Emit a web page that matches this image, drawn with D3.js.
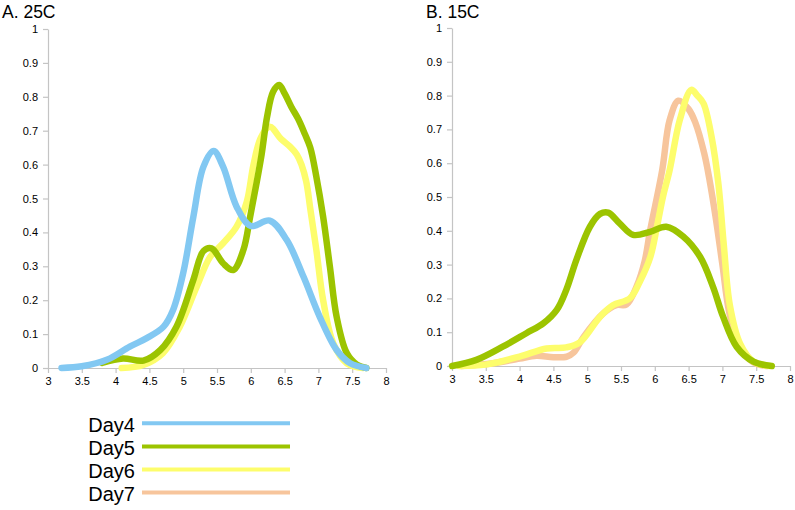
<!DOCTYPE html>
<html>
<head>
<meta charset="utf-8">
<script src="https://cdn.jsdelivr.net/npm/d3@7"></script>
<style>
  html, body { margin: 0; padding: 0; background: #fff; }
  svg { display: block; font-family: "Liberation Sans", Arial, Helvetica, sans-serif; }
</style>
</head>
<body>
<svg id="chart" width="795" height="510"></svg>
<script>
// ---- data ----
const panelTitles = ["A. 25C", "B. 15C"];
const seriesNames = ["Day4", "Day5", "Day6", "Day7"];
const seriesColors = ["#82c8f2", "#9cc400", "#fdfd6c", "#f7c59c"];
const xTickValues = [3, 3.5, 4, 4.5, 5, 5.5, 6, 6.5, 7, 7.5, 8];
const xTickLabels = ["3", "3.5", "4", "4.5", "5", "5.5", "6", "6.5", "7", "7.5", "8"];
const yTickValues = [0, 0.1, 0.2, 0.3, 0.4, 0.5, 0.6, 0.7, 0.8, 0.9, 1];
const yTickLabels = ["0", "0.1", "0.2", "0.3", "0.4", "0.5", "0.6", "0.7", "0.8", "0.9", "1"];

// Panel A (25C)
const A_day4 = [[3.2,0],[3.5,0.005],[3.87,0.024],[4.21,0.063],[4.46,0.088],[4.71,0.122],[4.85,0.171],[5.0,0.28],[5.15,0.446],[5.3,0.594],[5.45,0.64],[5.59,0.594],[5.79,0.476],[6.0,0.419],[6.28,0.435],[6.53,0.378],[6.78,0.269],[7.02,0.151],[7.27,0.053],[7.47,0.014],[7.71,0]];
const A_day5 = [[3.8,0.015],[4.11,0.028],[4.41,0.022],[4.66,0.053],[4.9,0.122],[5.15,0.26],[5.3,0.345],[5.42,0.353],[5.59,0.309],[5.74,0.289],[5.89,0.348],[5.99,0.446],[6.08,0.54],[6.16,0.63],[6.24,0.74],[6.33,0.815],[6.42,0.835],[6.5,0.81],[6.6,0.77],[6.7,0.735],[6.8,0.69],[6.88,0.65],[6.97,0.564],[7.07,0.446],[7.17,0.299],[7.27,0.151],[7.42,0.044],[7.57,0.01],[7.71,0]];
const A_day6 = [[4.09,0],[4.41,0.009],[4.7,0.044],[4.95,0.122],[5.2,0.24],[5.4,0.328],[5.59,0.368],[5.79,0.417],[5.94,0.49],[6.04,0.6],[6.15,0.68],[6.28,0.712],[6.45,0.675],[6.58,0.653],[6.68,0.63],[6.75,0.6],[6.82,0.55],[6.88,0.47],[6.97,0.348],[7.07,0.2],[7.22,0.073],[7.42,0.014],[7.66,0]];

// Panel B (15C)
const B_day5 = [[3.0,0],[3.36,0.018],[3.75,0.057],[4.1,0.097],[4.35,0.126],[4.55,0.166],[4.69,0.225],[4.84,0.314],[5.04,0.412],[5.19,0.45],[5.31,0.454],[5.48,0.422],[5.68,0.388],[5.93,0.397],[6.17,0.412],[6.42,0.383],[6.67,0.323],[6.86,0.235],[7.01,0.146],[7.21,0.057],[7.46,0.013],[7.73,0]];
const B_day6 = [[3.11,0],[3.5,0.004],[4.0,0.028],[4.4,0.052],[4.69,0.055],[4.89,0.07],[5.19,0.146],[5.38,0.18],[5.63,0.2],[5.78,0.25],[5.93,0.32],[6.03,0.41],[6.12,0.5],[6.22,0.58],[6.37,0.728],[6.54,0.817],[6.63,0.8],[6.72,0.777],[6.84,0.678],[6.94,0.54],[7.02,0.36],[7.11,0.18],[7.26,0.067],[7.46,0.013],[7.7,0]];
const B_day7 = [[3.14,0],[3.6,0.008],[4.0,0.022],[4.25,0.03],[4.5,0.026],[4.7,0.028],[4.8,0.04],[4.95,0.087],[5.24,0.156],[5.43,0.18],[5.58,0.182],[5.73,0.235],[5.85,0.31],[5.93,0.4],[6.11,0.58],[6.22,0.728],[6.35,0.785],[6.5,0.76],[6.6,0.72],[6.73,0.63],[6.81,0.55],[6.9,0.44],[7.0,0.3],[7.1,0.16],[7.25,0.06],[7.45,0.012],[7.65,0]];

const panelSeries = [
  [ {name:"Day6", data:A_day6}, {name:"Day5", data:A_day5}, {name:"Day4", data:A_day4} ],
  [ {name:"Day7", data:B_day7}, {name:"Day6", data:B_day6}, {name:"Day5", data:B_day5} ]
];

// ---- drawing ----
const svg = d3.select("#chart");
const color = d3.scaleOrdinal().domain(seriesNames).range(seriesColors);
const axisColor = "#c4c4c4";

const panels = [
  { x0: 48, x1: 386, y0: 368, y1: 29, titleX: 2 },
  { x0: 452, x1: 790, y0: 366, y1: 28, titleX: 426 }
];

panels.forEach((p, i) => {
  const x = d3.scaleLinear().domain([3, 8]).range([p.x0, p.x1]);
  const y = d3.scaleLinear().domain([0, 1]).range([p.y0, p.y1]);
  const g = svg.append("g");

  const yAxis = d3.axisLeft(y).tickValues(yTickValues)
    .tickFormat((d, k) => yTickLabels[k]).tickSize(5).tickSizeOuter(0).tickPadding(5);
  const ya = g.append("g").attr("transform", `translate(${p.x0},0)`).call(yAxis);
  const xAxis = d3.axisBottom(x).tickValues(xTickValues)
    .tickFormat((d, k) => xTickLabels[k]).tickSize(5).tickSizeOuter(0).tickPadding(4);
  const xa = g.append("g").attr("transform", `translate(0,${p.y0})`).call(xAxis);

  [ya, xa].forEach(a => {
    a.select(".domain").attr("stroke", axisColor).attr("stroke-width", 1.2);
    a.selectAll(".tick line").attr("stroke", axisColor).attr("stroke-width", 1.2);
    a.selectAll(".tick text").attr("fill", "#000").style("font-size", "11px")
      .style("font-family", '"Liberation Sans", Arial, sans-serif');
  });

  const line = d3.line().x(d => x(d[0])).y(d => y(d[1])).curve(d3.curveCatmullRom.alpha(0.5));
  panelSeries[i].forEach(s => {
    g.append("path").datum(s.data)
      .attr("d", line)
      .attr("fill", "none")
      .attr("stroke", color(s.name))
      .attr("stroke-width", 6.5)
      .attr("stroke-linecap", "round")
      .attr("stroke-linejoin", "round");
  });

  svg.append("text").attr("x", p.titleX).attr("y", 18)
    .style("font-size", "17.5px").attr("fill", "#000").text(panelTitles[i]);
});

// legend
const lg = svg.append("g");
seriesNames.forEach((n, k) => {
  const cy = 423.3 + k * 23.1;
  lg.append("text").attr("x", 135).attr("y", cy + 8.5)
    .attr("text-anchor", "end").style("font-size", "20px").attr("fill", "#000").text(n);
  lg.append("line").attr("x1", 142).attr("x2", 290).attr("y1", cy).attr("y2", cy)
    .attr("stroke", color(n)).attr("stroke-width", 4);
});
</script>
</body>
</html>
